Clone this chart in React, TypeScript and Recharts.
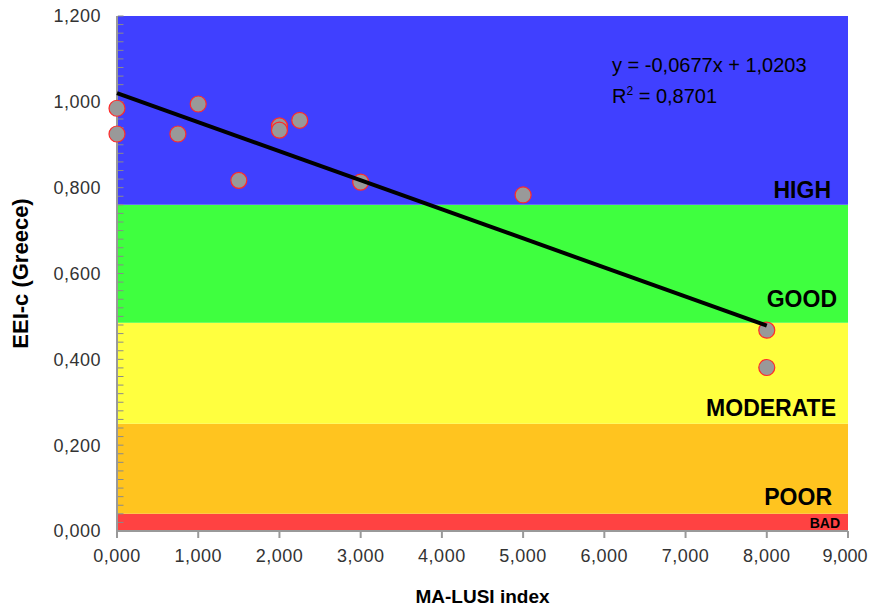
import { ScatterChart, Scatter, XAxis, YAxis, ReferenceArea, ReferenceLine } from "recharts";

// MA-LUSI index vs EEI-c, Greek sites
const xValues = [0, 0, 0.75, 1, 1.5, 2, 2, 2.25, 3, 5, 8, 8];
const yValues = [0.985, 0.925, 0.925, 0.995, 0.817, 0.944, 0.934, 0.957, 0.813, 0.783, 0.468, 0.381];

// linear fit end points (y = -0,0677x + 1,0203)
const trendX = [0, 8];
const trendY = [1.0203, 0.4787];

// ecological status classes
const bandBounds = [0, 0.04, 0.25, 0.485, 0.76, 1.2];
const bandNames = ["BAD", "POOR", "MODERATE", "GOOD", "HIGH"];
const bandColors = ["#FF4242", "#FFC41F", "#FFFF3F", "#3FFF3F", "#4040FF"];

const xTicks = [0, 1, 2, 3, 4, 5, 6, 7, 8, 9];
const yTicks = [0, 0.2, 0.4, 0.6, 0.8, 1.0, 1.2];
const yMinorTicks = Array.from({ length: 61 }, (_, i) => +(i * 0.02).toFixed(2));

const points = xValues.map((x, i) => ({ x, y: yValues[i] }));
const trend = trendX.map((x, i) => ({ x, y: trendY[i] }));

const FONT = "'Liberation Sans', Arial, sans-serif";
const fmt = (v: number) => v.toFixed(3).replace(".", ",");

// label placement inside each band (right / bottom insets)
const labelStyle: Record<string, { size: number; dx: number; dy: number }> = {
  HIGH: { size: 23, dx: 17, dy: 7 },
  GOOD: { size: 23, dx: 11, dy: 16 },
  MODERATE: { size: 23, dx: 12, dy: 8 },
  POOR: { size: 23, dx: 16, dy: 9 },
  BAD: { size: 14, dx: 8, dy: 3 },
};

const tickText = { fill: "#333", fontSize: 18, fontFamily: FONT, letterSpacing: 0.5 };

const XTick = (props: any) => {
  const { x, y, payload, index } = props;
  const last = index === xTicks.length - 1;
  return (
    <text
      x={last ? x - 3 : x}
      y={y}
      dy={14}
      textAnchor="middle"
      fill="#333"
      fontSize={18}
      fontFamily={FONT}
      letterSpacing={last ? 0 : 0.5}
    >
      {fmt(payload.value)}
    </text>
  );
};

const Dot = (props: any) => (
  <circle cx={props.cx} cy={props.cy} r={8} fill="#999999" stroke="#FF2A2A" strokeWidth={1.2} />
);

export default function App() {
  return (
    <div style={{ position: "absolute", left: 0, top: 0, width: 869, height: 609, background: "#fff", fontFamily: FONT }}>
      <ScatterChart width={869} height={609} margin={{ top: 16, right: 21, left: 0, bottom: 6 }}>
        {bandNames.map((name, i) => (
          <ReferenceArea
            key={name}
            y1={bandBounds[i]}
            y2={bandBounds[i + 1]}
            x1={0}
            x2={9}
            fill={bandColors[i]}
            fillOpacity={1}
            stroke="none"
            label={(p: any) => {
              const vb = p.viewBox;
              const s = labelStyle[name];
              return (
                <text
                  x={vb.x + vb.width - s.dx}
                  y={vb.y + vb.height - s.dy}
                  textAnchor="end"
                  fontSize={s.size}
                  fontWeight="bold"
                  fontFamily={FONT}
                  fill="#000"
                >
                  {name}
                </text>
              );
            }}
          />
        ))}
        {yMinorTicks.map((v) => (
          <ReferenceLine
            key={v}
            segment={[{ x: 0.01, y: v }, { x: 0.08, y: v }]}
            stroke="#8a8a8a"
            strokeWidth={1}
          />
        ))}
        <XAxis
          type="number"
          dataKey="x"
          domain={[0, 9]}
          ticks={xTicks}
          interval={0}
          height={72}
          tickSize={7}
          tickMargin={10}
          stroke="#999"
          strokeWidth={2}
          tick={<XTick />}
          label={{
            value: "MA-LUSI index",
            position: "insideBottom",
            offset: 0,
            style: { fontWeight: "bold", fontSize: 19, fill: "#000", fontFamily: FONT },
          }}
        />
        <YAxis
          type="number"
          dataKey="y"
          domain={[0, 1.2]}
          ticks={yTicks}
          interval={0}
          width={117}
          tickSize={0}
          tickMargin={16}
          tickLine={false}
          tickFormatter={fmt}
          stroke="#999"
          strokeWidth={2}
          tick={tickText}
          label={{
            value: "EEI-c (Greece)",
            angle: -90,
            position: "insideLeft",
            offset: 20,
            style: { textAnchor: "middle", fontWeight: "bold", fontSize: 22, fill: "#000", fontFamily: FONT },
          }}
        />
        <Scatter data={points} shape={<Dot />} isAnimationActive={false} />
        <Scatter
          data={trend}
          line={{ stroke: "#000", strokeWidth: 4 }}
          shape={() => <g />}
          isAnimationActive={false}
        />
      </ScatterChart>
      <div style={{ position: "absolute", left: 612, top: 53, fontSize: 20, color: "#000", lineHeight: "24px", whiteSpace: "nowrap" }}>
        y = -0,0677x + 1,0203
      </div>
      <div style={{ position: "absolute", left: 612, top: 84, fontSize: 20, color: "#000", lineHeight: "24px", whiteSpace: "nowrap" }}>
        R<sup style={{ fontSize: 12, verticalAlign: "8px", lineHeight: 0 }}>2</sup> = 0,8701
      </div>
    </div>
  );
}
